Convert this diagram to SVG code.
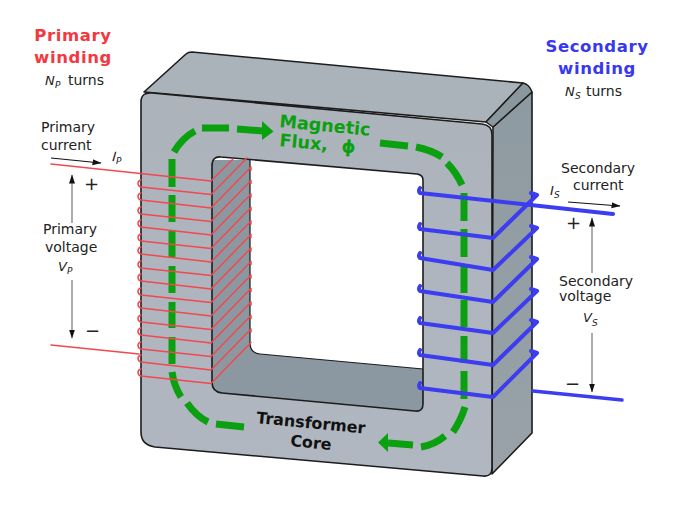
<svg xmlns="http://www.w3.org/2000/svg" width="680" height="510" viewBox="0 0 680 510">
<style>
text{font-family:"DejaVu Sans",sans-serif;fill:#222}
.h{font-size:16.5px;font-weight:bold;text-anchor:middle;letter-spacing:.6px}
.l{font-size:14px}
.i{font-size:13px;font-style:italic}
.s{font-size:9px;font-style:italic}
.e{fill:none;stroke:#1c1c1c;stroke-width:1.6;stroke-linejoin:round}
.r{fill:none;stroke:#f2484f;stroke-width:1.5;stroke-linecap:round;stroke-linejoin:round}
.b{fill:none;stroke:#3c3cf0;stroke-width:4;stroke-linecap:round;stroke-linejoin:round}
.g{fill:none;stroke:#0aa00f;stroke-width:7}
.gf{fill:#0aa00f}
.a{stroke:#666;stroke-width:1.1;fill:none}
.ak{stroke:#111;stroke-width:1.2;fill:none}
.mf{font-size:17.6px;font-weight:bold;fill:#0aa00f}
.cf{font-size:15.9px;font-weight:bold;fill:#111}
</style>
<defs>
<linearGradient id="fr" x1="0" y1="0" x2="0" y2="1"><stop offset="0" stop-color="#acb3bb"/><stop offset="1" stop-color="#b1b7c1"/></linearGradient>
<linearGradient id="sd" x1="0" y1="0" x2="0" y2="1"><stop offset="0" stop-color="#8e9aa1"/><stop offset="1" stop-color="#98a2a8"/></linearGradient>
<marker id="ah" markerUnits="userSpaceOnUse" markerWidth="10" markerHeight="8" refX="8.500" refY="3" orient="auto"><path d="M0,0L9,3L0,6Z" fill="#111"/></marker>
</defs>
<g id="core">
<path d="M493,127L532,92L532,433L492,474Z" fill="url(#sd)" stroke="#1c1c1c" stroke-width="1.6" stroke-linejoin="round"/>
<path d="M144,92L186,54Q188,52 192,52L523,83L486,122Z" class="e" style="fill:#aab2ba"/>
<path d="M523,83Q529,84 532,92L493,127L486,122Z" fill="#8a979e" stroke="#1c1c1c" stroke-width="1.4" stroke-linejoin="round"/>
<path d="M212,160H423V412H212Z" fill="#8c98a1"/>
<path d="M250,158L418,174Q423,175 423,180L423,369L260,354Q250,353 250,343Z" fill="#fff"/>
<path d="M250,158V343Q250,353 260,354L423,369" fill="none" stroke="#1c1c1c" stroke-width="1.2"/>
<path fill-rule="evenodd" fill="url(#fr)" stroke="#1c1c1c" stroke-width="1.6" stroke-linejoin="round" d="M152,93L482,124Q492,125 492,135L492,468Q492,477 483,476L155,447Q141,445 141,432L141,102Q141,92 152,93ZM221,157L417,174Q423,175 423,180L423,404Q423,412 415,411L222,393Q212,392 212,382L212,166Q212,156 221,157Z"/>
</g>
<g id="flux">
<path class="g" d="M172,372Q174,386 181,397M187,403Q196,416 208,422M216,424L244,427"/>
<path class="g" d="M172,159V187M172,195V222M172,230V257M172,266V293M172,302V328M172,337V364"/>
<path class="g" d="M174,152Q182,138 195,131M202,128L229,128M237,129L263,131"/>
<path class="gf" d="M262,121L273.500,131.500L262,140Z"/>
<path class="g" d="M380,143L408,146M416,147Q431,150 442,157M447,163Q456,172 462,185"/>
<path class="g" d="M464,193V221M464,229V257M464,265V293M464,300V327M464,336V363M464,371V399"/>
<path class="g" d="M465,407Q461,420 453,432M445,436Q434,445 421,447M413,445L388,443"/>
<path class="gf" d="M388,433L378,442.500L388,452Z"/>
<text class="mf" transform="translate(279,127) rotate(5.500)">Magnetic</text>
<text class="mf" transform="translate(279,146) rotate(5.500)">Flux,</text>
<text class="mf" transform="translate(341,152) rotate(5.500)">ϕ</text>
</g>
<g id="core-label">
<text class="cf" transform="translate(256,423) rotate(5.500)">Transformer</text>
<text class="cf" transform="translate(290,446) rotate(5.500)">Core</text>
</g>
<g id="connectors">
<g id="primary-coil">
<path class="r" d="M51,164L211,181L233,159"/>
<path class="r" d="M141,187C137,186 137,181 141,180M141,187L211,194.500L247,158"/>
<path class="r" d="M141,200C137,199 137,194 141,193M141,200L211,208L251,167V170"/>
<path class="r" d="M141,214C137,213 137,208 141,207M141,214L211,221.500L251,180.500V183.500"/>
<path class="r" d="M141,227C137,226 137,221 141,220M141,227L211,235L251,194V197"/>
<path class="r" d="M141,241C137,240 137,235 141,234M141,241L211,248.500L251,207.500V210.500"/>
<path class="r" d="M141,254C137,253 137,248 141,247M141,254L211,262L251,221V224"/>
<path class="r" d="M141,268C137,267 137,262 141,261M141,268L211,275.500L251,234.500V237.500"/>
<path class="r" d="M141,281C137,280 137,275 141,274M141,281L211,289L251,248V251"/>
<path class="r" d="M141,295C137,294 137,289 141,288M141,295L211,302.500L251,261.500V264.500"/>
<path class="r" d="M141,308C137,307 137,302 141,301M141,308L211,316L251,275V278"/>
<path class="r" d="M141,322C137,321 137,316 141,315M141,322L211,329.500L251,288.500V291.500"/>
<path class="r" d="M141,335C137,334 137,329 141,328M141,335L211,343L251,302V305"/>
<path class="r" d="M141,349C137,348 137,343 141,342M141,349L211,356.500L251,315.500V318.500"/>
<path class="r" d="M141,362C137,361 137,356 141,355M141,362L211,370L251,329V332"/>
<path class="r" d="M141,376C137,375 137,370 141,369M141,376L211,383.500L251,342.500"/>
<path class="r" d="M51,345L139,354"/>
</g>
<g id="secondary-coil">
<path class="b" d="M420,188Q418,191 420,193L613,214"/>
<path class="b" d="M420,224Q418,227 420,229L493,238L537,195L531,193"/>
<path class="b" d="M420,253Q418,256 420,258L493,270L537,228L531,226"/>
<path class="b" d="M420,286Q418,289 420,291L493,302L537,259L531,257"/>
<path class="b" d="M420,318Q418,321 420,323L493,333L537,291L531,289"/>
<path class="b" d="M420,350Q418,353 420,355L493,365L537,322L531,320"/>
<path class="b" d="M420,383Q418,386 420,388L493,397L537,353L531,351"/>
<path d="M533,391L622,400" fill="none" stroke="#3c3cf0" stroke-width="3.500" stroke-linecap="round"/>
</g>
<g id="arrows">
<path class="ak" d="M51,158L101,163" marker-end="url(#ah)"/>
<path class="a" d="M72,223V175" marker-end="url(#ah)"/>
<path class="a" d="M72,280V338" marker-end="url(#ah)"/>
<path class="ak" d="M568,202L620,206" marker-end="url(#ah)"/>
<path class="a" d="M592,273V218" marker-end="url(#ah)"/>
<path class="a" d="M592,333V392" marker-end="url(#ah)"/>
</g>
</g>
<g id="primary-labels">
<text class="h" x="73" y="41" style="fill:#f4383f">Primary</text>
<text class="h" x="73" y="63" style="fill:#f4383f">winding</text>
<text class="i" x="45" y="85">N</text><text class="s" x="55" y="88">P</text><text class="l" x="68" y="85">turns</text>
<text class="l" x="41" y="132">Primary</text>
<text class="l" x="41" y="150">current</text>
<text class="i" x="112" y="161" transform="rotate(5 112 161)">I</text><text class="s" x="116" y="164">P</text>
<text x="84" y="190" style="font-size:18px">+</text>
<text class="l" x="43" y="234">Primary</text>
<text class="l" x="45" y="252">voltage</text>
<text class="i" x="58" y="271">V</text><text class="s" x="67" y="274">P</text>
<text x="85" y="337" style="font-size:18px">−</text>
</g>
<g id="secondary-labels">
<text class="h" x="597" y="52" style="fill:#3838ef">Secondary</text>
<text class="h" x="597" y="74" style="fill:#3838ef">winding</text>
<text class="i" x="565" y="96">N</text><text class="s" x="575" y="99">S</text><text class="l" x="586" y="96">turns</text>
<text class="l" x="561" y="173">Secondary</text>
<text class="l" x="573" y="190">current</text>
<text class="i" x="550" y="195">I</text><text class="s" x="554" y="198">S</text>
<text x="566" y="229" style="font-size:18px">+</text>
<text class="l" x="559" y="286">Secondary</text>
<text class="l" x="559" y="301">voltage</text>
<text class="i" x="583" y="322">V</text><text class="s" x="592" y="326">S</text>
<text x="565" y="390" style="font-size:18px">−</text>
</g>
</svg>
